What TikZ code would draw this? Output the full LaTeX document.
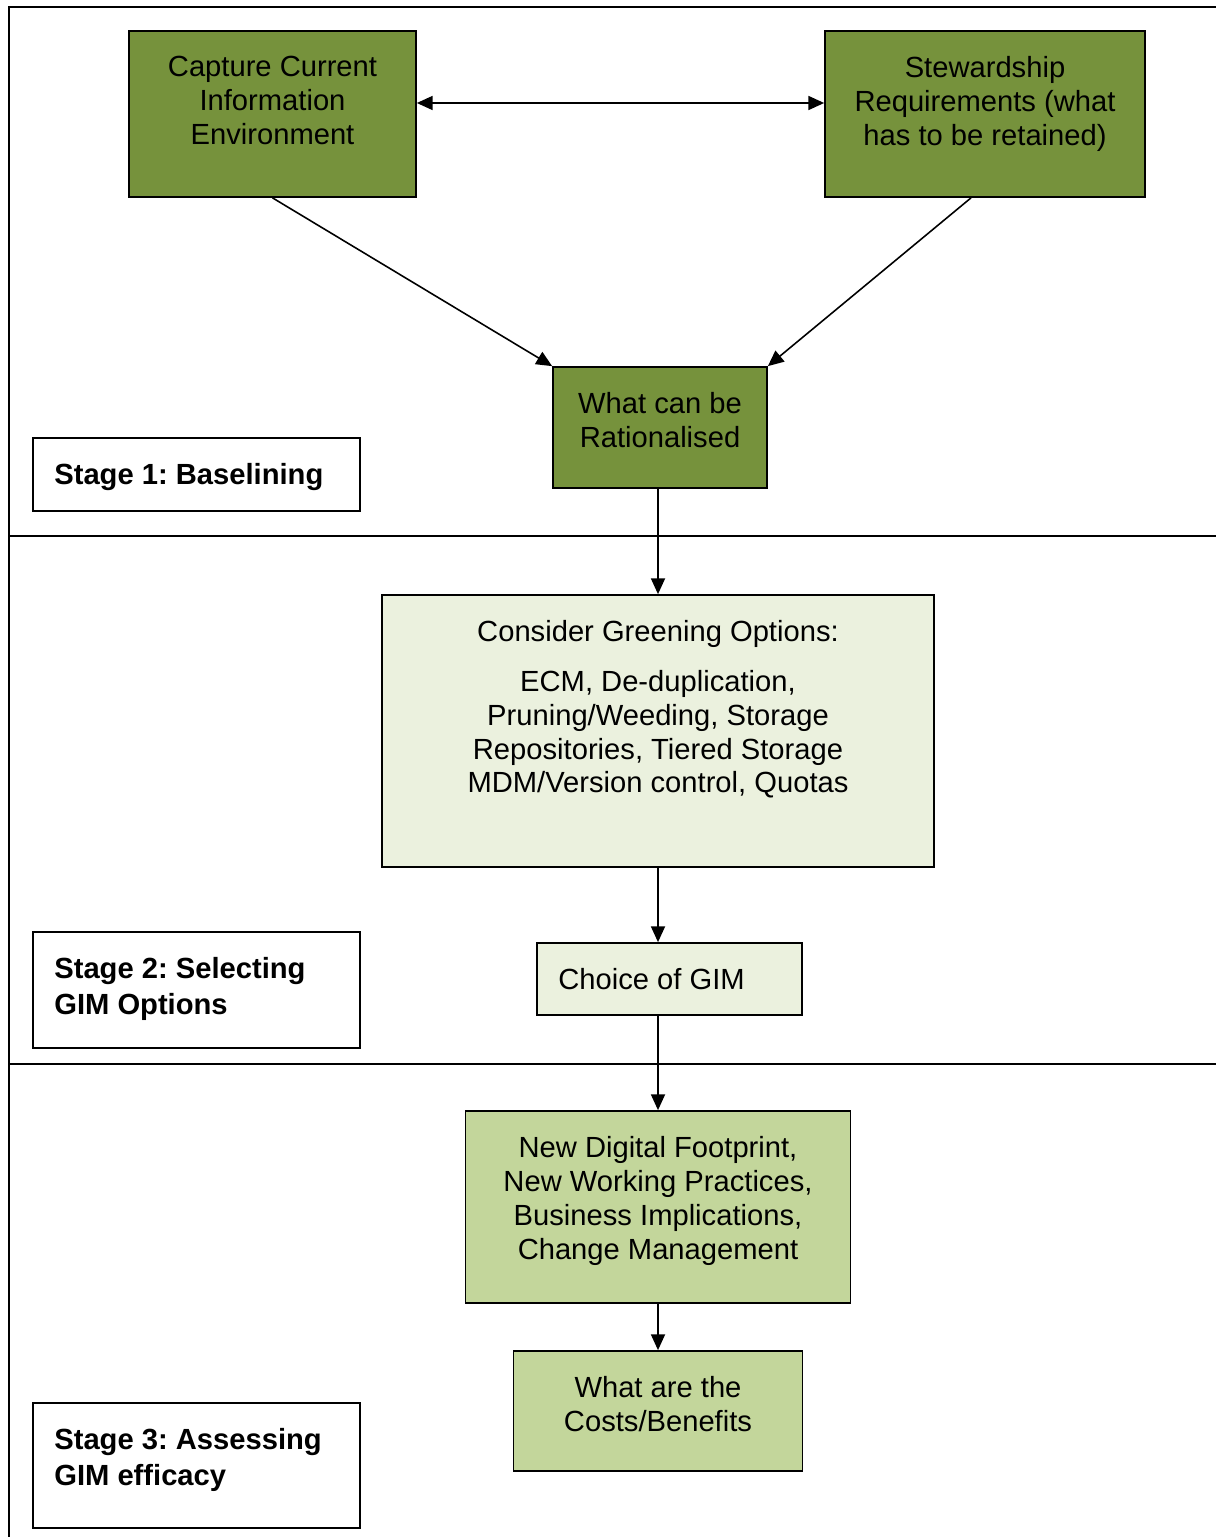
\documentclass[tikz,border=0pt]{standalone}
\usepackage{fontspec}
\setmainfont{Liberation Sans}
\usetikzlibrary{positioning, arrows.meta}
\definecolor{darkolive}{HTML}{76923C}
\definecolor{palegreen}{HTML}{EBF1DE}
\definecolor{midgreen}{HTML}{C3D69B}
\frenchspacing

\begin{document}
\begin{tikzpicture}[x=0.02cm, y=-0.02cm,
        box/.style={draw, line width=1pt, inner sep=0pt},
        boxtext/.style={anchor=north, align=center, inner sep=0pt, font=\fontsize{16.6}{19.3}\selectfont},
        stagetext/.style={anchor=north west, align=left, inner sep=0pt, font=\fontsize{16.6}{20.4}\selectfont\bfseries},
        link/.style={line width=0.9pt, -{Triangle[length=9pt, width=8pt]}}]
        \useasboundingbox (0, 0) rectangle (1216, 1537);

        % frame and stage separators
        \draw[line width=1.1pt] (9, 1537) -- (9, 7) -- (1216, 7);
        \draw[line width=1.1pt] (9, 536) -- (1216, 536)
            (9, 1064) -- (1216, 1064);

        % stage 1
        \node[box, fill=darkolive, minimum width=5.74cm, minimum height=3.32cm] (cap) at (272.5, 114) {};
        \node[box, fill=darkolive, minimum width=6.4cm, minimum height=3.32cm] (stew) at (985, 114) {};
        \node[box, fill=darkolive, minimum width=4.28cm, minimum height=2.42cm] (rat) at (660, 427.5) {};
        \node[box, minimum width=6.54cm, minimum height=1.46cm] (stage1) at (196.5, 474.5) {};

        \node[boxtext] (capT) at (272.5, 56) {Capture Current\\Information\\Environment};
        \node[boxtext] (stewT) at (985, 56) {Stewardship\\Requirements (what\\has to be retained)};
        \node[boxtext] (ratT) at (660, 392) {What can be\\Rationalised};
        \node[stagetext] (stage1T) at (54, 463) {Stage 1: Baselining};

        % stage 2
        \node[box, fill=palegreen, minimum width=11.04cm, minimum height=5.44cm] (green) at (658, 731) {};
        \node[box, fill=palegreen, minimum width=5.3cm, minimum height=1.44cm] (choice) at (669.5, 979) {};
        \node[box, minimum width=6.54cm, minimum height=2.32cm] (stage2) at (196.5, 990) {};

        \node[boxtext] (greenT) at (658, 620) {Consider Greening Options:\\[9pt]
            ECM, De-duplication,\\Pruning/Weeding, Storage\\Repositories, Tiered Storage\\MDM/Version control, Quotas};
        \node[boxtext, anchor=north west] (choiceT) at (558, 968) {Choice of GIM};
        \node[stagetext] (stage2T) at (54, 957) {Stage 2: Selecting\\GIM Options};

        % stage 3
        \node[box, fill=midgreen, minimum width=7.7cm, minimum height=3.84cm] (newdig) at (658, 1207) {};
        \node[box, fill=midgreen, minimum width=5.78cm, minimum height=2.4cm] (costs) at (658, 1411) {};
        \node[box, minimum width=6.54cm, minimum height=2.5cm] (stage3) at (196.5, 1465.5) {};

        \node[boxtext] (newdigT) at (658, 1136) {New Digital Footprint,\\New Working Practices,\\Business Implications,\\Change Management};
        \node[boxtext] (costsT) at (658, 1376) {What are the\\Costs/Benefits};
        \node[stagetext] (stage3T) at (54, 1428) {Stage 3: Assessing\\GIM efficacy};

        % connectors
        \draw[link, {Triangle[length=9pt, width=8pt]}-{Triangle[length=9pt, width=8pt]}] ([yshift=0.22cm]cap.east) -- ([yshift=0.22cm]stew.west);
        \draw[link] (cap.south) -- (rat.north west);
        \draw[link] ([xshift=-0.28cm]stew.south) -- (rat.north east);
        \draw[link] (rat.south -| green.north) -- (green.north);
        \draw[link] (green.south) -- (green.south |- choice.north);
        \draw[link] (choice.south -| newdig.north) -- (newdig.north);
        \draw[link] (newdig.south) -- (costs.north);
\end{tikzpicture}
\end{document}
